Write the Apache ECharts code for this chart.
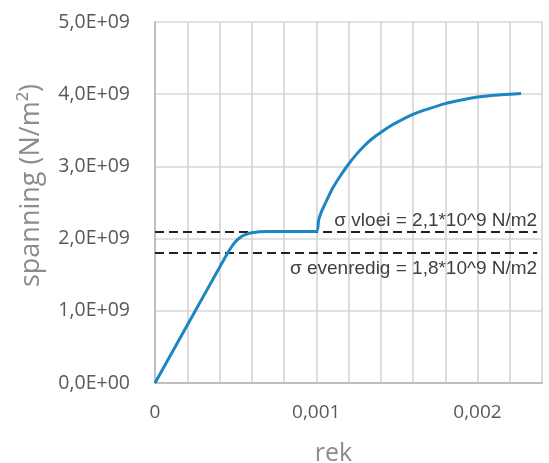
<!DOCTYPE html>
<html>
<head>
<meta charset="utf-8">
<script src="https://cdn.jsdelivr.net/npm/echarts@6/dist/echarts.min.js"></script>
<style>html,body{margin:0;padding:0;background:#fff}#c{width:549px;height:463px}</style>
</head>
<body>
<div id="c"></div>
<script>
const strain = [0, 0.0002, 0.0004, 0.00044, 0.00047, 0.0005, 0.00053, 0.00056, 0.0006, 0.00065, 0.0007, 0.001,
  0.001015, 0.00103, 0.00105, 0.0011, 0.00115, 0.0012, 0.00125, 0.0013, 0.00135, 0.0014, 0.00145, 0.0015,
  0.0016, 0.0017, 0.0018, 0.0019, 0.002, 0.0021, 0.0022, 0.00227];
const stress = [0, 0.8e9, 1.6e9, 1.76e9, 1.87e9, 1.96e9, 2.02e9, 2.055e9, 2.08e9, 2.095e9, 2.1e9, 2.1e9,
  2.26e9, 2.36e9, 2.46e9, 2.69e9, 2.87e9, 3.03e9, 3.17e9, 3.29e9, 3.39e9, 3.47e9, 3.545e9, 3.61e9,
  3.72e9, 3.80e9, 3.87e9, 3.92e9, 3.96e9, 3.985e9, 4.0e9, 4.01e9];
const yieldStress = 2.1e9;
const propStress = 1.8e9;
const refLineEnd = 0.00237;
const yieldLabel = 'σ vloei = 2,1*10^9 N/m2';
const propLabel = 'σ evenredig = 1,8*10^9 N/m2';
const xTickLabels = {0: '0', 1: '0,001', 2: '0,002'};

const data = strain.map((x, i) => [x, stress[i]]);
const chart = echarts.init(document.getElementById('c'));
chart.setOption({
  animation: false,
  backgroundColor: '#fff',
  grid: {left: 155, right: 7, top: 22, bottom: 80, containLabel: false, outerBoundsMode: 'none'},
  xAxis: {
    type: 'value', min: 0, max: 0.0024, interval: 0.0002,
    name: 'rek', nameLocation: 'middle', nameGap: 58,
    nameTextStyle: {fontFamily: 'Open Sans', fontSize: 25, color: '#8c8c8c', padding: [0, 30, 0, 0]},
    axisLine: {lineStyle: {color: '#bfbfbf', width: 2}},
    axisTick: {show: false},
    axisLabel: {
      margin: 20, fontFamily: 'Open Sans', fontSize: 19, color: '#595959',
      formatter: v => {
        const k = Math.round(v / 0.0002);
        if (k % 5 !== 0) return '';
        return xTickLabels[k / 5] || '';
      }
    },
    splitLine: {show: true, lineStyle: {color: '#d0d0d0', width: 1.5}}
  },
  yAxis: {
    type: 'value', min: 0, max: 5e9, interval: 1e9,
    name: 'spanning (N/m²)', nameLocation: 'middle', nameGap: 110,
    nameTextStyle: {fontFamily: 'Open Sans', fontSize: 27, color: '#8c8c8c', padding: [0, 0, 0, 34]},
    axisLine: {show: true, lineStyle: {color: '#bfbfbf', width: 2}},
    axisTick: {show: false},
    axisLabel: {
      margin: 25, fontFamily: 'Open Sans', fontSize: 19.5, color: '#595959',
      formatter: v => v === 0 ? '0,0E+00' : (v / 1e9).toFixed(1).replace('.', ',') + 'E+09'
    },
    splitLine: {show: true, lineStyle: {color: '#d9d9d9', width: 1.5}}
  },
  series: [{
    type: 'line', data: data, smooth: 0.3, symbol: 'none',
    lineStyle: {color: '#1b87c2', width: 3},
    z: 3,
    markLine: {
      silent: true, symbol: 'none', z: 2,
      lineStyle: {color: '#222', type: [9, 5], width: 1.8},
      label: {fontFamily: 'Liberation Sans', fontSize: 19, color: '#404040'},
      data: [
        [{coord: [0, yieldStress], label: {formatter: yieldLabel, position: 'insideEndTop', distance: [0, 1]}},
         {coord: [refLineEnd, yieldStress]}],
        [{coord: [0, propStress], label: {formatter: propLabel, position: 'insideEndBottom', distance: [0, 6]}},
         {coord: [refLineEnd, propStress]}]
      ]
    }
  }]
});
</script>
</body>
</html>
